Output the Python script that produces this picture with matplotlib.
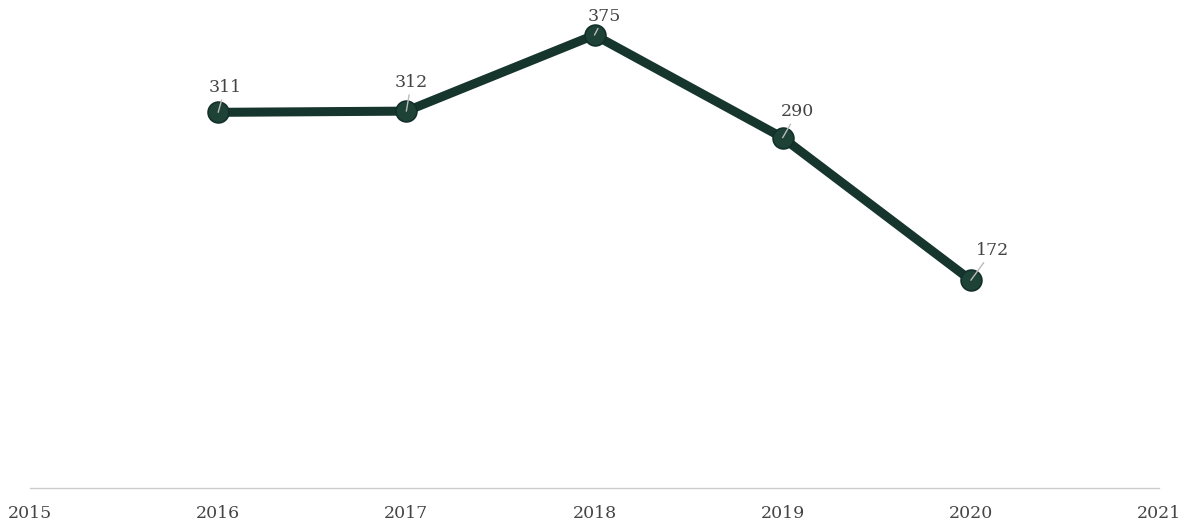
import matplotlib.pyplot as plt

# datos
anios = [2016, 2017, 2018, 2019, 2020]
valores = [311, 312, 375, 290, 172]
etiquetas_x = [2015, 2016, 2017, 2018, 2019, 2020, 2021]
# desplazamiento de cada etiqueta (px)
desplaz = [(7, 25), (5, 29), (10, 19), (15, 26), (22, 30)]

fig = plt.figure(figsize=(11.9, 5.23), dpi=100)
ax = fig.add_axes([30 / 1190, 35 / 523, 1129 / 1190, 488 / 523])

ax.plot(anios, valores, color="#16352c", lw=6.5, solid_capstyle="round", zorder=2)
ax.plot(anios, valores, ls="none", marker="o", ms=15, mfc="#1f4236",
        mec="#12302a", mew=1.2, zorder=3)

for x, v, (dx, dy) in zip(anios, valores, desplaz):
    ax.annotate(str(v), xy=(x, v), xytext=(dx * 0.72, dy * 0.72),
                textcoords="offset points", ha="center", va="center",
                fontsize=12.5, family="DejaVu Serif", color="#444444",
                arrowprops=dict(arrowstyle="-", color="#bbbbbb", lw=1,
                                shrinkA=1, shrinkB=0), zorder=4)

ax.set_xlim(2015, 2021)
ax.set_ylim(0, 404)
ax.set_xticks(etiquetas_x)
ax.set_xticklabels([str(a) for a in etiquetas_x], family="DejaVu Serif",
                   fontsize=12.5, color="#444444")
ax.tick_params(axis="x", length=0, pad=12)
ax.set_yticks([])
for lado in ["top", "right", "left"]:
    ax.spines[lado].set_visible(False)
ax.spines["bottom"].set_color("#cccccc")
ax.spines["bottom"].set_linewidth(1)

fig.savefig("out.png", dpi=100)
